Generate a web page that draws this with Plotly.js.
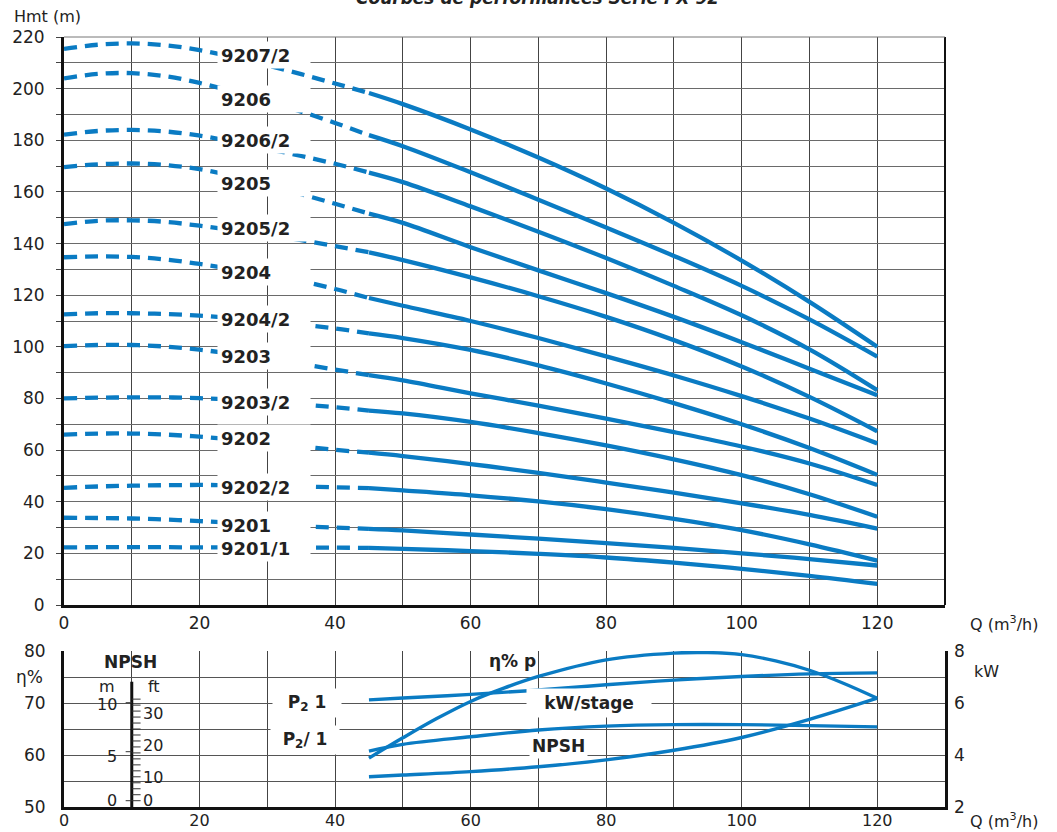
<!DOCTYPE html>
<html>
<head>
<meta charset="utf-8">
<script src="https://cdn.plot.ly/plotly-3.0.1.min.js"></script>
<style>html,body{margin:0;padding:0;background:#fff;}#chart{width:1057px;height:832px;}</style>
</head>
<body>
<div id="chart"></div>
<script>
// ---------- DATA : head curves (Hmt, m) ----------
const Q_LOW  = [0, 5, 10, 15, 20, 25, 30, 35, 40, 45];          // dashed part
const Q_HIGH = [45, 50, 60, 70, 80, 90, 100, 110, 120];          // solid part
const MODELS = ['9207/2','9206','9206/2','9205','9205/2','9204','9204/2','9203','9203/2','9202','9202/2','9201','9201/1'];

const H_9207_2_low  = [215.4, 217.0, 217.5, 216.8, 214.9, 212.2, 209.0, 205.6, 202.0, 198.3];
const H_9207_2_high = [198.3, 194.0, 184.2, 173.3, 161.3, 148.0, 133.4, 117.4, 100.0];
const H_9206_low    = [204.0, 205.7, 206.0, 204.8, 202.2, 198.8, 195.0, 191.1, 186.7, 182.0];
const H_9206_high   = [182.0, 177.7, 167.6, 157.0, 146.2, 135.2, 123.6, 110.6, 96.2];
const H_9206_2_low  = [182.2, 183.6, 184.0, 183.4, 181.8, 179.4, 176.7, 173.9, 170.9, 167.5];
const H_9206_2_high = [167.5, 163.8, 154.4, 144.6, 134.4, 123.6, 112.2, 99.0, 83.2];
const H_9205_low    = [169.6, 170.7, 171.0, 170.4, 168.8, 166.1, 162.7, 159.1, 155.4, 151.6];
const H_9205_high   = [151.6, 148.0, 138.6, 129.6, 120.8, 111.6, 101.8, 91.5, 81.2];
const H_9205_2_low  = [147.5, 148.8, 149.0, 148.4, 146.9, 145.2, 143.4, 141.3, 139.0, 136.6];
const H_9205_2_high = [136.6, 133.6, 126.9, 119.6, 111.6, 102.6, 92.4, 80.6, 67.3];
const H_9204_low    = [134.7, 135.0, 134.8, 133.8, 132.1, 130.1, 127.9, 125.5, 122.4, 118.9];
const H_9204_high   = [118.9, 115.9, 110.0, 103.4, 96.3, 88.9, 80.9, 72.2, 62.6];
const H_9204_2_low  = [112.6, 113.0, 113.0, 112.7, 112.1, 111.1, 109.9, 108.6, 107.1, 105.2];
const H_9204_2_high = [105.2, 103.4, 98.8, 92.8, 85.8, 78.2, 70.0, 60.8, 50.4];
const H_9203_low    = [100.3, 100.7, 100.7, 100.1, 98.9, 97.2, 95.3, 93.3, 91.2, 89.0];
const H_9203_high   = [89.0, 87.0, 82.0, 77.2, 72.2, 67.0, 61.4, 54.8, 46.5];
const H_9203_2_low  = [80.0, 80.3, 80.4, 80.4, 80.1, 79.5, 78.7, 77.7, 76.6, 75.3];
const H_9203_2_high = [75.3, 74.2, 70.9, 66.6, 61.8, 56.4, 50.3, 42.9, 34.2];
const H_9202_low    = [66.0, 66.4, 66.4, 66.0, 65.2, 64.1, 62.8, 61.4, 60.1, 59.0];
const H_9202_high   = [59.0, 57.7, 54.6, 51.2, 47.4, 43.5, 39.4, 34.9, 29.6];
const H_9202_2_low  = [45.4, 45.9, 46.2, 46.4, 46.5, 46.4, 46.2, 45.9, 45.6, 45.3];
const H_9202_2_high = [45.3, 44.4, 42.5, 40.1, 37.1, 33.4, 29.0, 23.5, 17.2];
const H_9201_low    = [33.8, 33.7, 33.5, 33.1, 32.5, 31.8, 31.1, 30.5, 30.0, 29.5];
const H_9201_high   = [29.5, 28.9, 27.3, 25.7, 24.0, 22.1, 20.0, 17.8, 15.3];
const H_9201_1_low  = [22.3, 22.4, 22.4, 22.4, 22.3, 22.3, 22.2, 22.2, 22.2, 22.1];
const H_9201_1_high = [22.1, 21.7, 20.9, 19.8, 18.4, 16.4, 14.0, 11.3, 8.2];

const LOW_SETS  = [H_9207_2_low, H_9206_low, H_9206_2_low, H_9205_low, H_9205_2_low, H_9204_low, H_9204_2_low, H_9203_low, H_9203_2_low, H_9202_low, H_9202_2_low, H_9201_low, H_9201_1_low];
const HIGH_SETS = [H_9207_2_high, H_9206_high, H_9206_2_high, H_9205_high, H_9205_2_high, H_9204_high, H_9204_2_high, H_9203_high, H_9203_2_high, H_9202_high, H_9202_2_high, H_9201_high, H_9201_1_high];

// ---------- DATA : lower panel ----------
const Q_ETA   = [45, 50, 55, 60, 65, 70, 80, 90, 95, 100, 105, 110, 115, 120];
const ETA_P   = [59.4, 63.3, 67.0, 70.3, 72.9, 75.1, 78.3, 79.6, 79.7, 79.3, 78.1, 76.3, 73.8, 70.9];
const Q_LOWER = [45, 50, 60, 70, 80, 90, 100, 110, 120];
const KW_P2_1     = [6.12, 6.19, 6.33, 6.50, 6.70, 6.88, 7.02, 7.12, 7.16];
const KW_P2_SL_1  = [4.15, 4.41, 4.70, 4.96, 5.11, 5.17, 5.17, 5.13, 5.08];
const NPSH_M      = [2.45, 2.62, 2.97, 3.46, 4.17, 5.15, 6.45, 8.30, 10.46];

// tick labels
const Q_TICKS   = [0, 10, 20, 30, 40, 50, 60, 70, 80, 90, 100, 110, 120];
const H_TICKS   = [0,10,20,30,40,50,60,70,80,90,100,110,120,130,140,150,160,170,180,190,200,210,220];
const ETA_TICKS = [50, 55, 60, 65, 70, 75, 80];
const KW_TICKS  = [2, 4, 6, 8];
const FT_MARKS  = [0,2,4,6,8,10,12,14,16,18,20,22,24,26,28,30,32,34];

// ---------- LAYOUT HELPERS ----------
const W = 1057, HGT = 832, ML = 64, MR = 112, MT = 37, MB = 25;
const PW = W - ML - MR, PH = HGT - MT - MB;
const px = x => (x - ML) / PW;
const py = y => (HGT - MB - y) / PH;
const BLUE = '#0a7bc3';
const TXT = '#222';
const FONT = 'DejaVu Sans';

const traces = [];
MODELS.forEach((m, i) => {
  traces.push({x: Q_LOW, y: LOW_SETS[i], xaxis: 'x', yaxis: 'y', mode: 'lines', hoverinfo: 'skip',
    line: {color: BLUE, width: 4.3, dash: '13px,8px', shape: 'spline', smoothing: 1}});
  traces.push({x: Q_HIGH, y: HIGH_SETS[i], xaxis: 'x', yaxis: 'y', mode: 'lines', hoverinfo: 'skip',
    line: {color: BLUE, width: 4.3, shape: 'spline', smoothing: 1}});
});
traces.push({x: Q_ETA, y: ETA_P, xaxis: 'x2', yaxis: 'y2', mode: 'lines', line: {color: BLUE, width: 3.4, shape: 'spline'}});
traces.push({x: Q_LOWER, y: KW_P2_1, xaxis: 'x2', yaxis: 'y4', mode: 'lines', line: {color: BLUE, width: 3.4, shape: 'spline'}});
traces.push({x: Q_LOWER, y: KW_P2_SL_1, xaxis: 'x2', yaxis: 'y4', mode: 'lines', line: {color: BLUE, width: 3.4, shape: 'spline'}});
traces.push({x: Q_LOWER, y: NPSH_M, xaxis: 'x2', yaxis: 'y3', mode: 'lines', line: {color: BLUE, width: 3.4, shape: 'spline'}});

const qText = Q_TICKS.map(v => v % 20 === 0 ? String(v) : ' ');
const hText = H_TICKS.map(v => v % 20 === 0 ? String(v) : ' ');
const eText = ETA_TICKS.map(v => v % 10 === 0 ? String(v) : ' ');

const topDom = [py(605), 1];
const botDom = [0, py(651)];
// NPSH metre scale on the lower panel: 0 m at 800.7 px, 9.8 px per metre
const npshRange = [-(HGT - MB - 800.7) / 9.8, (800.7 - 651) / 9.8];

const tickFont = {family: FONT, size: 17, color: TXT};

// label positions of the head curves (Hmt values at their centre)
const LABEL_Y = [213.0, 195.9, 180.1, 163.6, 145.9, 129.1, 110.8, 96.4, 78.7, 64.6, 45.8, 31.0, 22.0];

const annotations = [];
MODELS.forEach((m, i) => {
  annotations.push({xref: 'x', yref: 'y', x: 22.6, y: LABEL_Y[i], xanchor: 'left', yanchor: 'middle',
    text: '<b>' + m + '</b>', showarrow: false, bgcolor: '#fff', borderpad: 3, width: 86, height: 20, align: 'left',
    font: {family: FONT, size: 18, color: TXT}});
});
function txt(t, x, y, opt) {
  annotations.push(Object.assign({xref: 'paper', yref: 'paper', x: px(x), y: py(y), text: t, showarrow: false,
    xanchor: 'center', yanchor: 'middle', font: {family: FONT, size: 16, color: TXT}}, opt || {}));
}
txt('<b><i>Courbes de performances Série PX 92</i></b>', 537, -2, {font: {family: FONT, size: 17, color: TXT}});
txt('Hmt (m)', 12, 17, {xanchor: 'left'});
txt('Q (m<sup>3</sup>/h)', 968, 623, {xanchor: 'left'});
txt('Q (m<sup>3</sup>/h)', 968, 821, {xanchor: 'left'});
txt('kW', 972, 671, {xanchor: 'left'});
txt('η%', 14, 677, {xanchor: 'left', font: {family: FONT, size: 17, color: TXT}});
txt('<b>NPSH</b>', 130, 662, {font: {family: FONT, size: 17, color: TXT}});
txt('m', 107, 686);
txt('ft', 154, 686);
txt('10', 119, 704, {xanchor: 'right'});
txt('5', 119, 756, {xanchor: 'right'});
txt('0', 119, 800, {xanchor: 'right'});
txt('30', 141, 713, {xanchor: 'left'});
txt('20', 141, 745, {xanchor: 'left'});
txt('10', 141, 777, {xanchor: 'left'});
txt('0', 141, 800, {xanchor: 'left'});
const boldLbl = {family: FONT, size: 17, color: TXT};
txt('<b>P<sub>2</sub> 1</b>', 307, 703, {bgcolor: '#fff', width: 62, height: 22, borderpad: 3, font: boldLbl});
txt('<b>P<sub>2</sub>/ 1</b>', 305, 740, {bgcolor: '#fff', width: 62, height: 22, borderpad: 3, font: boldLbl});
txt('<b>η% p</b>', 512, 661, {font: boldLbl});
txt('<b>kW/stage</b>', 589, 703, {bgcolor: '#fff', width: 118, height: 22, borderpad: 3, font: boldLbl});
txt('<b>NPSH</b>', 558, 746, {bgcolor: '#fff', borderpad: 2, font: boldLbl});

const shapes = [
  // right and top borders of the head chart
  {type: 'line', xref: 'x domain', yref: 'y domain', x0: 1, x1: 1, y0: 0, y1: 1, line: {color: '#111', width: 2}},
  {type: 'line', xref: 'x domain', yref: 'y domain', x0: 0, x1: 1, y0: 1, y1: 1, line: {color: '#777', width: 1}},
  // NPSH scale line
  {type: 'line', xref: 'x2', yref: 'y3', x0: 10, x1: 10, y0: npshRange[0], y1: 12.14, line: {color: '#111', width: 3}},
];
FT_MARKS.forEach(f => {
  shapes.push({type: 'line', xref: 'x2', yref: 'y3', x0: 10, x1: 11.3, y0: f * 0.3048, y1: f * 0.3048, line: {color: '#333', width: 1}});
});
[0, 5, 10].forEach(mv => {
  shapes.push({type: 'line', xref: 'x2', yref: 'y3', x0: 9.1, x1: 10, y0: mv, y1: mv, line: {color: '#333', width: 1}});
});

const layout = {
  width: W, height: HGT,
  margin: {l: ML, r: MR, t: MT, b: MB},
  paper_bgcolor: '#fff', plot_bgcolor: '#fff',
  showlegend: false,
  font: {family: FONT, color: TXT},
  xaxis: {domain: [0, 1], anchor: 'y', range: [0, 130], tickvals: Q_TICKS, ticktext: qText, ticks: '',
    showgrid: true, gridcolor: '#444', gridwidth: 1, zeroline: false,
    showline: true, linecolor: '#111', linewidth: 2.5, tickfont: tickFont, ticklabelstandoff: 1},
  yaxis: {domain: topDom, anchor: 'x', range: [0, 220], tickvals: H_TICKS, ticktext: hText,
    ticks: 'outside', ticklen: 5, tickcolor: '#444', showgrid: true, gridcolor: '#6a6a6a', gridwidth: 1, zeroline: false,
    showline: true, linecolor: '#111', linewidth: 3, tickfont: tickFont, ticklabelstandoff: 8},
  xaxis2: {domain: [0, 1], anchor: 'y2', range: [0, 130], tickvals: Q_TICKS, ticktext: qText, ticks: '',
    showgrid: true, gridcolor: '#444', gridwidth: 1, zeroline: false,
    showline: true, linecolor: '#111', linewidth: 2.5, tickfont: {family: FONT, size: 16, color: TXT}, ticklabelstandoff: -3},
  yaxis2: {domain: botDom, anchor: 'x2', range: [50, 80], tickvals: ETA_TICKS, ticktext: eText, ticks: '',
    showgrid: true, gridcolor: '#555', gridwidth: 1, zeroline: false,
    showline: true, linecolor: '#111', linewidth: 3, tickfont: tickFont, ticklabelstandoff: 12},
  yaxis3: {domain: botDom, anchor: 'x2', overlaying: 'y2', range: npshRange, visible: false},
  yaxis4: {domain: botDom, anchor: 'x2', overlaying: 'y2', side: 'right', range: [2, 8], tickvals: KW_TICKS, ticks: '',
    showgrid: false, zeroline: false, showline: true, linecolor: '#111', linewidth: 2.5, tickfont: tickFont, ticklabelstandoff: 3},
  annotations: annotations,
  shapes: shapes
};

Plotly.newPlot('chart', traces, layout, {staticPlot: true, displayModeBar: false});
</script>
</body>
</html>
